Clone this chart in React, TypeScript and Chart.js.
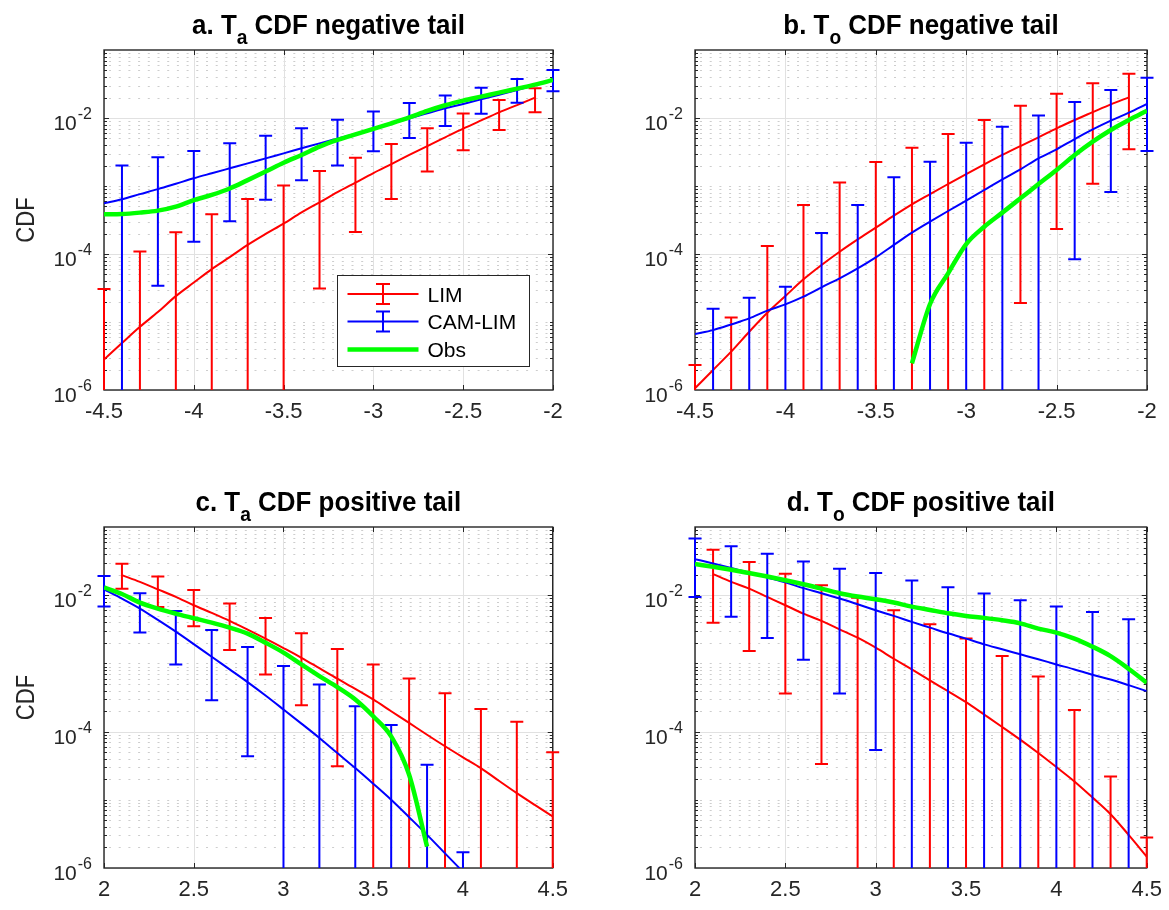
import { useEffect, useRef } from "react";
import { Chart, registerables } from "chart.js";

Chart.register(...registerables);

const FONT = '"Liberation Sans", Arial, Helvetica, sans-serif';
const AXIS_COLOR = "#262626";
const LIM_COLOR = "#ff0000";
const CAM_COLOR = "#0000ff";
const OBS_COLOR = "#00ff00";
const MAJOR_GRID = "#e1e1e1";
const MINOR_GRID = "#cdcdcd";

const seriesNames = ["LIM", "CAM-LIM", "Obs"];

// ---------- tick labels ----------
const negXTicks = [-4.5, -4, -3.5, -3, -2.5, -2];
const posXTicks = [2, 2.5, 3, 3.5, 4, 4.5];
const yLabelValues = [1e-6, 1e-4, 1e-2];
const yLabelExponents = ["-6", "-4", "-2"];
const Y_MIN = 1e-6;
const Y_MAX = 1e-1;

// ---------- x positions ----------
const negX26 = [-4.5, -4.4, -4.3, -4.2, -4.1, -4.0, -3.9, -3.8, -3.7, -3.6, -3.5, -3.4, -3.3, -3.2, -3.1, -3.0, -2.9, -2.8, -2.7, -2.6, -2.5, -2.4, -2.3, -2.2, -2.1, -2.0];
const negX25 = [-4.5, -4.4, -4.3, -4.2, -4.1, -4.0, -3.9, -3.8, -3.7, -3.6, -3.5, -3.4, -3.3, -3.2, -3.1, -3.0, -2.9, -2.8, -2.7, -2.6, -2.5, -2.4, -2.3, -2.2, -2.1];
const negLimBarX = [-4.5, -4.3, -4.1, -3.9, -3.7, -3.5, -3.3, -3.1, -2.9, -2.7, -2.5, -2.3, -2.1];
const negCamBarX = [-4.4, -4.2, -4.0, -3.8, -3.6, -3.4, -3.2, -3.0, -2.8, -2.6, -2.4, -2.2, -2.0];
const bObsX = [-3.3, -3.2, -3.1, -3.0, -2.9, -2.8, -2.7, -2.6, -2.5, -2.4, -2.3, -2.2, -2.1, -2.0];

const posX26 = [2.0, 2.1, 2.2, 2.3, 2.4, 2.5, 2.6, 2.7, 2.8, 2.9, 3.0, 3.1, 3.2, 3.3, 3.4, 3.5, 3.6, 3.7, 3.8, 3.9, 4.0, 4.1, 4.2, 4.3, 4.4, 4.5];
const posX25 = [2.1, 2.2, 2.3, 2.4, 2.5, 2.6, 2.7, 2.8, 2.9, 3.0, 3.1, 3.2, 3.3, 3.4, 3.5, 3.6, 3.7, 3.8, 3.9, 4.0, 4.1, 4.2, 4.3, 4.4, 4.5];
const posLimBarX = [2.1, 2.3, 2.5, 2.7, 2.9, 3.1, 3.3, 3.5, 3.7, 3.9, 4.1, 4.3, 4.5];
const posCamBarX = [2.0, 2.2, 2.4, 2.6, 2.8, 3.0, 3.2, 3.4, 3.6, 3.8, 4.0, 4.2, 4.4];
const cCamX = [2.0, 2.1, 2.2, 2.3, 2.4, 2.5, 2.6, 2.7, 2.8, 2.9, 3.0, 3.1, 3.2, 3.3, 3.4, 3.5, 3.6, 3.7, 3.8, 3.9, 4.0];
const cCamBarX = [2.0, 2.2, 2.4, 2.6, 2.8, 3.0, 3.2, 3.4, 3.6, 3.8, 4.0];
const cObsX = [2.0, 2.1, 2.2, 2.3, 2.4, 2.5, 2.6, 2.7, 2.8, 2.9, 3.0, 3.1, 3.2, 3.3, 3.4, 3.5, 3.6, 3.7, 3.8];

// ---------- panel a: Ta negative tail ----------
const aLimLine = [2.8e-6, 4.9e-6, 8.5e-6, 1.4e-5, 2.4e-5, 3.8e-5, 6.0e-5, 9.0e-5, 1.36e-4, 1.97e-4, 2.8e-4, 4.1e-4, 5.75e-4, 8.1e-4, 1.12e-3, 1.55e-3, 2.1e-3, 2.86e-3, 3.87e-3, 5.2e-3, 6.97e-3, 9.2e-3, 1.21e-2, 1.55e-2, 1.99e-2];
const aLimUpper = [3.05e-5, 1.09e-4, 2.08e-4, 3.83e-4, 6.44e-4, 1.02e-3, 1.66e-3, 2.61e-3, 4.15e-3, 7.05e-3, 1.16e-2, 1.84e-2, 2.73e-2];
const aLimLower = [0, 0, 0, 0, 0, 0, 3.1e-5, 2.1e-4, 6.44e-4, 1.64e-3, 3.35e-3, 6.67e-3, 1.21e-2];
const aCamLine = [5.56e-4, 6.4e-4, 7.6e-4, 9.0e-4, 1.08e-3, 1.3e-3, 1.54e-3, 1.82e-3, 2.15e-3, 2.55e-3, 3.02e-3, 3.58e-3, 4.24e-3, 4.97e-3, 5.82e-3, 6.8e-3, 8.2e-3, 9.9e-3, 1.17e-2, 1.39e-2, 1.61e-2, 1.88e-2, 2.2e-2, 2.58e-2, 3.06e-2, 3.62e-2];
const aCamUpper = [2.0e-3, 2.64e-3, 3.27e-3, 4.24e-3, 5.5e-3, 7.05e-3, 9.4e-3, 1.25e-2, 1.66e-2, 2.15e-2, 2.79e-2, 3.75e-2, 5.08e-2];
const aCamLower = [0, 3.4e-5, 1.52e-4, 3.02e-4, 6.3e-4, 1.22e-3, 2.0e-3, 3.24e-3, 5.1e-3, 7.6e-3, 1.15e-2, 1.68e-2, 2.47e-2];
const aObs = [3.83e-4, 3.87e-4, 4.06e-4, 4.34e-4, 4.97e-4, 6.2e-4, 7.4e-4, 9.2e-4, 1.22e-3, 1.63e-3, 2.2e-3, 2.86e-3, 3.79e-3, 4.75e-3, 5.75e-3, 6.9e-3, 8.35e-3, 1.02e-2, 1.27e-2, 1.54e-2, 1.8e-2, 2.06e-2, 2.36e-2, 2.7e-2, 3.09e-2, 3.62e-2];

// ---------- panel b: To negative tail ----------
const bLimLine = [1.06e-6, 1.97e-6, 3.66e-6, 7.2e-6, 1.37e-5, 2.41e-5, 4.24e-5, 6.9e-5, 1.08e-4, 1.64e-4, 2.44e-4, 3.66e-4, 5.37e-4, 7.6e-4, 1.07e-3, 1.5e-3, 2.08e-3, 2.86e-3, 3.87e-3, 5.2e-3, 7.05e-3, 9.35e-3, 1.22e-2, 1.59e-2, 2.01e-2];
const bLimUpper = [2.33e-6, 1.16e-5, 1.31e-4, 5.26e-4, 1.13e-3, 2.25e-3, 3.66e-3, 5.82e-3, 9.35e-3, 1.52e-2, 2.28e-2, 3.24e-2, 4.49e-2];
const bLimLower = [0, 0, 0, 0, 0, 0, 0, 0, 0, 1.9e-5, 2.33e-4, 1.08e-3, 3.46e-3];
const bCamLine = [6.67e-6, 7.6e-6, 9.2e-6, 1.13e-5, 1.47e-5, 1.82e-5, 2.36e-5, 3.24e-5, 4.39e-5, 6.15e-5, 8.93e-5, 1.36e-4, 2.06e-4, 2.99e-4, 4.29e-4, 6.08e-4, 8.73e-4, 1.25e-3, 1.76e-3, 2.55e-3, 3.46e-3, 4.91e-3, 6.8e-3, 9.14e-3, 1.2e-2, 1.61e-2];
const bCamUpper = [1.57e-5, 2.28e-5, 3.31e-5, 2.04e-4, 5.26e-4, 1.34e-3, 2.28e-3, 4.34e-3, 7.46e-3, 1.09e-2, 1.72e-2, 2.58e-2, 3.92e-2];
const bCamLower = [0, 0, 0, 0, 0, 0, 0, 0, 0, 0, 8.35e-5, 8.16e-4, 3.27e-3];
const bObs = [2.47e-6, 1.84e-5, 5.2e-5, 1.4e-4, 2.52e-4, 4.06e-4, 6.59e-4, 1.07e-3, 1.72e-3, 2.86e-3, 4.49e-3, 6.67e-3, 9.35e-3, 1.28e-2];

// ---------- panel c: Ta positive tail ----------
const cLimLine = [1.97e-2, 1.57e-2, 1.22e-2, 9.44e-3, 7.13e-3, 5.5e-3, 4.2e-3, 3.13e-3, 2.31e-3, 1.68e-3, 1.21e-3, 8.5e-4, 5.96e-4, 4.24e-4, 2.96e-4, 1.99e-4, 1.34e-4, 9.0e-5, 6.1e-5, 4.2e-5, 2.92e-5, 1.9e-5, 1.25e-5, 8.4e-6, 5.7e-6];
const cLimUpper = [2.89e-2, 1.88e-2, 1.19e-2, 7.53e-3, 4.65e-3, 2.76e-3, 1.63e-3, 9.66e-4, 6.0e-4, 3.66e-4, 2.15e-4, 1.39e-4, 5.0e-5];
const cLimLower = [1.24e-2, 6.73e-3, 3.5e-3, 1.57e-3, 6.89e-4, 2.44e-4, 3.1e-5, 0, 0, 0, 0, 0, 0];
const cCamLine = [1.22e-2, 8.9e-3, 6.37e-3, 4.34e-3, 2.92e-3, 1.92e-3, 1.25e-3, 8.16e-4, 5.31e-4, 3.38e-4, 2.11e-4, 1.31e-4, 8.07e-5, 4.85e-5, 2.92e-5, 1.72e-5, 1.0e-5, 5.56e-6, 3.06e-6, 1.64e-6, 8.8e-7];
const cCamUpper = [1.92e-2, 1.07e-2, 5.89e-3, 3.09e-3, 1.74e-3, 9.14e-4, 4.91e-4, 2.36e-4, 1.25e-4, 3.27e-5, 1.7e-6];
const cCamLower = [6.8e-3, 2.83e-3, 9.66e-4, 2.89e-4, 4.34e-5, 0, 0, 0, 0, 0, 0];
const cObs = [1.3e-2, 1.04e-2, 7.8e-3, 6.37e-3, 5.37e-3, 4.59e-3, 3.96e-3, 3.35e-3, 2.73e-3, 2.01e-3, 1.44e-3, 9.66e-4, 6.52e-4, 4.49e-4, 2.96e-4, 1.68e-4, 8.53e-5, 2.33e-5, 2.06e-6];

// ---------- panel d: To positive tail ----------
const dLimLine = [2.04e-2, 1.57e-2, 1.25e-2, 9.44e-3, 7.13e-3, 5.37e-3, 4.2e-3, 3.16e-3, 2.38e-3, 1.7e-3, 1.17e-3, 8.16e-4, 5.62e-4, 3.92e-4, 2.7e-4, 1.78e-4, 1.17e-4, 7.62e-5, 4.85e-5, 3.02e-5, 1.86e-5, 1.08e-5, 6.15e-6, 3.06e-6, 1.47e-6];
const dLimUpper = [4.65e-2, 3.06e-2, 2.06e-2, 1.4e-2, 9.14e-3, 6.01e-3, 3.75e-3, 2.31e-3, 1.28e-3, 6.44e-4, 2.08e-4, 2.2e-5, 2.79e-6];
const dLimLower = [3.96e-3, 1.52e-3, 3.62e-4, 3.35e-5, 0, 0, 0, 0, 0, 0, 0, 0, 0];
const dCamLine = [3.38e-2, 2.92e-2, 2.5e-2, 2.15e-2, 1.82e-2, 1.54e-2, 1.27e-2, 1.07e-2, 8.93e-3, 7.38e-3, 6.01e-3, 4.97e-3, 4.06e-3, 3.35e-3, 2.76e-3, 2.31e-3, 1.9e-3, 1.61e-3, 1.36e-3, 1.15e-3, 9.66e-4, 8.16e-4, 6.81e-4, 5.82e-4, 4.8e-4, 3.92e-4];
const dCamUpper = [6.81e-2, 5.2e-2, 4.06e-2, 3.13e-2, 2.44e-2, 2.11e-2, 1.64e-2, 1.31e-2, 1.06e-2, 8.44e-3, 6.8e-3, 5.69e-3, 4.44e-3];
const dCamLower = [9.44e-3, 4.85e-3, 2.36e-3, 1.13e-3, 3.62e-4, 5.37e-5, 0, 0, 0, 0, 0, 0, 0];
const dObs = [2.86e-2, 2.61e-2, 2.36e-2, 2.11e-2, 1.88e-2, 1.66e-2, 1.45e-2, 1.25e-2, 1.07e-2, 9.55e-3, 8.73e-3, 7.8e-3, 6.8e-3, 6.08e-3, 5.43e-3, 4.97e-3, 4.65e-3, 4.29e-3, 3.87e-3, 3.24e-3, 2.83e-3, 2.31e-3, 1.76e-3, 1.28e-3, 8.35e-4, 5.2e-4];

// ---------- layout ----------
const Y_AXIS_W = 104;
const PAD_TOP = 50;
const PAD_RIGHT = 24;
const X_AXIS_H = 46;

type Series = { x: number[]; y: number[] };
type Bars = { x: number[]; upper: number[]; lower: number[] };
type PanelSpec = {
  key: string;
  left: number;
  top: number;
  width: number;
  height: number;
  titleLead: string;
  titleSub: string;
  titleTail: string;
  xMin: number;
  xMax: number;
  xTicks: number[];
  yLabel: boolean;
  legend: boolean;
  lim: Series;
  limBars: Bars;
  cam: Series;
  camBars: Bars;
  obs: Series;
};

const panels: PanelSpec[] = [
  {
    key: "a", left: 104, top: 50, width: 449, height: 340,
    titleLead: "a. T", titleSub: "a", titleTail: " CDF negative tail",
    xMin: -4.5, xMax: -2, xTicks: negXTicks, yLabel: true, legend: true,
    lim: { x: negX25, y: aLimLine }, limBars: { x: negLimBarX, upper: aLimUpper, lower: aLimLower },
    cam: { x: negX26, y: aCamLine }, camBars: { x: negCamBarX, upper: aCamUpper, lower: aCamLower },
    obs: { x: negX26, y: aObs },
  },
  {
    key: "b", left: 695, top: 50, width: 452, height: 340,
    titleLead: "b. T", titleSub: "o", titleTail: " CDF negative tail",
    xMin: -4.5, xMax: -2, xTicks: negXTicks, yLabel: false, legend: false,
    lim: { x: negX25, y: bLimLine }, limBars: { x: negLimBarX, upper: bLimUpper, lower: bLimLower },
    cam: { x: negX26, y: bCamLine }, camBars: { x: negCamBarX, upper: bCamUpper, lower: bCamLower },
    obs: { x: bObsX, y: bObs },
  },
  {
    key: "c", left: 104, top: 527, width: 449, height: 341,
    titleLead: "c. T", titleSub: "a", titleTail: " CDF positive tail",
    xMin: 2, xMax: 4.5, xTicks: posXTicks, yLabel: true, legend: false,
    lim: { x: posX25, y: cLimLine }, limBars: { x: posLimBarX, upper: cLimUpper, lower: cLimLower },
    cam: { x: cCamX, y: cCamLine }, camBars: { x: cCamBarX, upper: cCamUpper, lower: cCamLower },
    obs: { x: cObsX, y: cObs },
  },
  {
    key: "d", left: 695, top: 527, width: 452, height: 341,
    titleLead: "d. T", titleSub: "o", titleTail: " CDF positive tail",
    xMin: 2, xMax: 4.5, xTicks: posXTicks, yLabel: false, legend: false,
    lim: { x: posX25, y: dLimLine }, limBars: { x: posLimBarX, upper: dLimUpper, lower: dLimLower },
    cam: { x: posX26, y: dCamLine }, camBars: { x: posCamBarX, upper: dCamUpper, lower: dCamLower },
    obs: { x: posX26, y: dObs },
  },
];

function minorYValues(): number[] {
  const out: number[] = [];
  for (let k = -6; k <= -2; k++) {
    for (let m = 1; m <= 9; m++) {
      const v = m * Math.pow(10, k);
      if (v > Y_MIN * 1.0001 && v < Y_MAX * 0.9999) out.push(v);
    }
  }
  return out;
}

const isLabelled = (v: number) => yLabelValues.some((t) => Math.abs(v / t - 1) < 1e-6);
const crisp = (p: number) => Math.round(p) + 0.5;

function toPoints(s: Series) {
  return s.x.map((x, i) => ({ x, y: s.y[i] }));
}

function drawErrorIcon(ctx: CanvasRenderingContext2D, cx: number, cy: number, color: string) {
  ctx.strokeStyle = color;
  ctx.lineWidth = 2;
  ctx.beginPath();
  ctx.moveTo(cx, cy - 10);
  ctx.lineTo(cx, cy + 10);
  ctx.moveTo(cx - 7, cy - 10);
  ctx.lineTo(cx + 7, cy - 10);
  ctx.moveTo(cx - 7, cy + 10);
  ctx.lineTo(cx + 7, cy + 10);
  ctx.stroke();
}

function makeDecor(spec: PanelSpec) {
  return {
    id: "matlabDecor" + spec.key,
    beforeDatasetsDraw(chart: any) {
      const { ctx, chartArea: ca } = chart;
      const xs = chart.scales.x;
      const ys = chart.scales.y;
      ctx.save();
      // dotted minor grid
      ctx.lineWidth = 1;
      ctx.strokeStyle = MINOR_GRID;
      ctx.setLineDash([2, 7.7]);
      ctx.lineDashOffset = -5;
      for (const v of minorYValues()) {
        if (isLabelled(v)) continue;
        const y = crisp(ys.getPixelForValue(v));
        ctx.beginPath();
        ctx.moveTo(Math.round(ca.left), y);
        ctx.lineTo(ca.right, y);
        ctx.stroke();
      }
      ctx.setLineDash([]);
      // major grid
      ctx.strokeStyle = MAJOR_GRID;
      for (const v of spec.xTicks) {
        const x = crisp(xs.getPixelForValue(v));
        ctx.beginPath();
        ctx.moveTo(x, ca.top);
        ctx.lineTo(x, ca.bottom);
        ctx.stroke();
      }
      for (const v of yLabelValues) {
        const y = crisp(ys.getPixelForValue(v));
        ctx.beginPath();
        ctx.moveTo(ca.left, y);
        ctx.lineTo(ca.right, y);
        ctx.stroke();
      }
      // tick marks (inside, both sides)
      ctx.strokeStyle = AXIS_COLOR;
      ctx.lineWidth = 1;
      ctx.beginPath();
      for (const v of minorYValues()) {
        const len = isLabelled(v) ? 5 : 3;
        const y = crisp(ys.getPixelForValue(v));
        ctx.moveTo(ca.left, y);
        ctx.lineTo(ca.left + len, y);
        ctx.moveTo(ca.right, y);
        ctx.lineTo(ca.right - len, y);
      }
      for (const v of spec.xTicks) {
        const x = crisp(xs.getPixelForValue(v));
        ctx.moveTo(x, ca.bottom);
        ctx.lineTo(x, ca.bottom - 5);
        ctx.moveTo(x, ca.top);
        ctx.lineTo(x, ca.top + 5);
      }
      ctx.stroke();
      // box
      ctx.lineWidth = 1.4;
      ctx.strokeStyle = AXIS_COLOR;
      ctx.strokeRect(ca.left, ca.top, ca.right - ca.left, ca.bottom - ca.top);
      ctx.restore();
    },
    afterDatasetDraw(chart: any, args: any) {
      const ds = chart.data.datasets[args.index];
      const eb: Bars | undefined = ds.errorBars;
      if (!eb) return;
      const { ctx, chartArea: ca } = chart;
      const xs = chart.scales.x;
      const ys = chart.scales.y;
      ctx.save();
      ctx.beginPath();
      ctx.rect(0, ca.top - 1, chart.width, ca.bottom - ca.top + 1);
      ctx.clip();
      ctx.strokeStyle = ds.borderColor;
      ctx.lineWidth = 2;
      ctx.beginPath();
      for (let i = 0; i < eb.x.length; i++) {
        const x = xs.getPixelForValue(eb.x[i]);
        const yTop = ys.getPixelForValue(eb.upper[i]);
        const yBot = eb.lower[i] > 0 ? ys.getPixelForValue(eb.lower[i]) : ca.bottom + 10;
        ctx.moveTo(x, yTop);
        ctx.lineTo(x, yBot);
        ctx.moveTo(x - 6.5, yTop);
        ctx.lineTo(x + 6.5, yTop);
        if (eb.lower[i] > 0) {
          ctx.moveTo(x - 6.5, yBot);
          ctx.lineTo(x + 6.5, yBot);
        }
      }
      ctx.stroke();
      ctx.restore();
    },
    afterDraw(chart: any) {
      const { ctx, chartArea: ca } = chart;
      const ys = chart.scales.y;
      ctx.save();
      // y tick labels 10^k
      ctx.fillStyle = AXIS_COLOR;
      ctx.textBaseline = "alphabetic";
      ctx.textAlign = "right";
      yLabelValues.forEach((v, i) => {
        const y = ys.getPixelForValue(v);
        const right = ca.left - 12;
        ctx.font = `16px ${FONT}`;
        const supW = ctx.measureText(yLabelExponents[i]).width;
        ctx.fillText(yLabelExponents[i], right, y + 1);
        ctx.font = `21px ${FONT}`;
        ctx.fillText("10", right - supW - 1, y + 12);
      });
      // title
      ctx.fillStyle = "#000";
      ctx.textAlign = "left";
      const mainFont = `bold 27px ${FONT}`;
      const subFont = `bold 20px ${FONT}`;
      ctx.font = mainFont;
      const wl = ctx.measureText(spec.titleLead).width;
      const wt = ctx.measureText(spec.titleTail).width;
      ctx.font = subFont;
      const ws = ctx.measureText(spec.titleSub).width;
      const sx = 0.96;
      const total = (wl + ws + wt) * sx;
      const cx = (ca.left + ca.right) / 2;
      ctx.translate(cx - total / 2, ca.top - 16);
      ctx.scale(sx, 1);
      ctx.font = mainFont;
      ctx.fillText(spec.titleLead, 0, 0);
      ctx.font = subFont;
      ctx.fillText(spec.titleSub, wl, 10);
      ctx.font = mainFont;
      ctx.fillText(spec.titleTail, wl + ws, 0);
      ctx.setTransform(1, 0, 0, 1, 0, 0);
      ctx.restore();

      if (spec.yLabel) {
        ctx.save();
        ctx.fillStyle = AXIS_COLOR;
        ctx.translate(ca.left - 70, (ca.top + ca.bottom) / 2);
        ctx.rotate(-Math.PI / 2);
        ctx.scale(0.85, 1);
        ctx.font = `26px ${FONT}`;
        ctx.textAlign = "center";
        ctx.textBaseline = "alphabetic";
        ctx.fillText("CDF", 0, 0);
        ctx.restore();
      }

      if (spec.legend) {
        ctx.save();
        const lx = Math.round(ca.left + 233) + 0.5;
        const ly = Math.round(ca.top + 225) + 0.5;
        const lw = 192;
        const lh = 91;
        ctx.fillStyle = "#fff";
        ctx.fillRect(lx, ly, lw, lh);
        ctx.strokeStyle = AXIS_COLOR;
        ctx.lineWidth = 1;
        ctx.strokeRect(lx, ly, lw, lh);
        const rows = [18.5, 46, 74];
        const colors = [LIM_COLOR, CAM_COLOR, OBS_COLOR];
        rows.forEach((off, i) => {
          const ry = ly + off;
          ctx.strokeStyle = colors[i];
          ctx.lineWidth = i === 2 ? 4.5 : 2;
          ctx.beginPath();
          ctx.moveTo(lx + 10, ry);
          ctx.lineTo(lx + 81, ry);
          ctx.stroke();
          if (i < 2) drawErrorIcon(ctx, lx + 45.5, ry, colors[i]);
          ctx.fillStyle = "#000";
          ctx.font = `21px ${FONT}`;
          ctx.textAlign = "left";
          ctx.textBaseline = "alphabetic";
          ctx.fillText(seriesNames[i], lx + 90, ry + 7.5);
        });
        ctx.restore();
      }
    },
  };
}

function Panel({ spec }: { spec: PanelSpec }) {
  const ref = useRef<HTMLCanvasElement | null>(null);
  const cw = Y_AXIS_W + spec.width + PAD_RIGHT;
  const chh = PAD_TOP + spec.height + X_AXIS_H;

  useEffect(() => {
    const canvas = ref.current;
    if (!canvas) return;
    const chart = new Chart(canvas, {
      type: "line",
      data: {
        datasets: [
          {
            label: seriesNames[0],
            data: toPoints(spec.lim),
            borderColor: LIM_COLOR,
            borderWidth: 2,
            pointRadius: 0,
            fill: false,
            cubicInterpolationMode: "monotone",
            order: 3,
            errorBars: spec.limBars,
          } as any,
          {
            label: seriesNames[1],
            data: toPoints(spec.cam),
            borderColor: CAM_COLOR,
            borderWidth: 2,
            pointRadius: 0,
            fill: false,
            cubicInterpolationMode: "monotone",
            order: 2,
            errorBars: spec.camBars,
          } as any,
          {
            label: seriesNames[2],
            data: toPoints(spec.obs),
            borderColor: OBS_COLOR,
            borderWidth: 4.5,
            pointRadius: 0,
            fill: false,
            cubicInterpolationMode: "monotone",
            order: 1,
          } as any,
        ],
      },
      options: {
        responsive: false,
        animation: false,
        events: [],
        layout: { padding: { left: 0, top: PAD_TOP, right: PAD_RIGHT, bottom: 0 } },
        plugins: {
          legend: { display: false },
          tooltip: { enabled: false },
          title: { display: false },
        },
        scales: {
          x: {
            type: "linear",
            min: spec.xMin,
            max: spec.xMax,
            grid: { display: false, drawTicks: false },
            border: { display: false },
            afterBuildTicks: (s: any) => {
              s.ticks = spec.xTicks.map((v) => ({ value: v }));
            },
            afterFit: (s: any) => {
              s.height = X_AXIS_H;
            },
            ticks: {
              autoSkip: false,
              maxRotation: 0,
              padding: 9,
              color: AXIS_COLOR,
              font: { family: FONT, size: 22 },
              callback: (v: any) => String(v),
            },
          },
          y: {
            type: "logarithmic",
            min: Y_MIN,
            max: Y_MAX,
            grid: { display: false, drawTicks: false },
            border: { display: false },
            ticks: { display: false },
            afterFit: (s: any) => {
              s.width = Y_AXIS_W;
            },
          },
        },
      } as any,
      plugins: [makeDecor(spec)],
    });
    return () => chart.destroy();
  }, [spec]);

  return (
    <canvas
      ref={ref}
      width={cw}
      height={chh}
      style={{
        position: "absolute",
        left: spec.left - Y_AXIS_W,
        top: spec.top - PAD_TOP,
        width: cw,
        height: chh,
      }}
    />
  );
}

export default function App() {
  return (
    <div
      style={{
        position: "absolute",
        left: 0,
        top: 0,
        width: 1169,
        height: 910,
        background: "#ffffff",
        overflow: "hidden",
      }}
    >
      {panels.map((p) => (
        <Panel key={p.key} spec={p} />
      ))}
    </div>
  );
}
